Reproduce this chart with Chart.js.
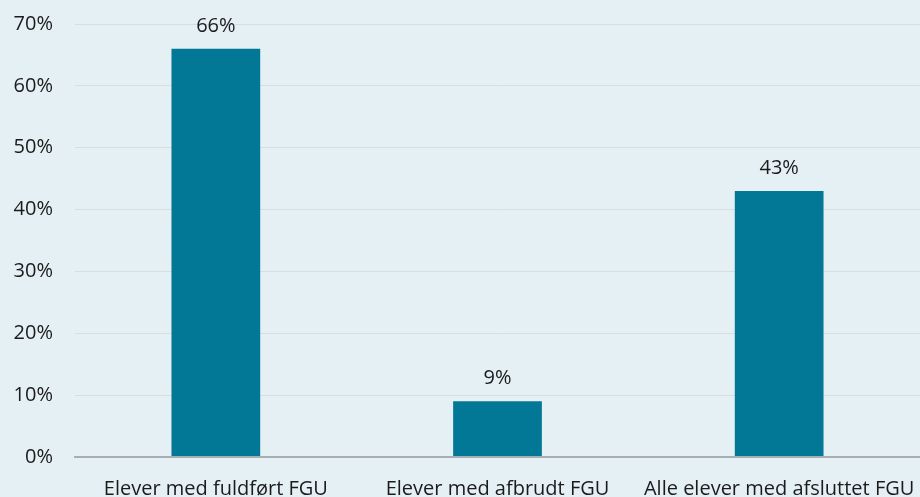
<!DOCTYPE html>
<html>
<head>
<meta charset="utf-8">
<script src="https://cdn.jsdelivr.net/npm/chart.js@4"></script>
<style>
  html, body { margin: 0; padding: 0; background: #e5f0f5; }
  #wrap { width: 920px; height: 497px; position: relative; }
</style>
</head>
<body>
<div id="wrap"><canvas id="myChart"></canvas></div>
<script>
const categories = ["Elever med fuldført FGU", "Elever med afbrudt FGU", "Alle elever med afsluttet FGU"];
const shares = [66, 9, 43];
const yTicks = [0, 10, 20, 30, 40, 50, 60, 70];

const FONT = "'Open Sans', 'Noto Sans', sans-serif";
const TEXT = "#1b1b1b";

// labels above each bar, placed from the bar elements
const barLabels = {
  id: "barLabels",
  afterDatasetsDraw(chart) {
    const ctx = chart.ctx;
    const meta = chart.getDatasetMeta(0);
    ctx.save();
    ctx.font = "20px " + FONT;
    ctx.fillStyle = TEXT;
    ctx.textAlign = "center";
    ctx.textBaseline = "alphabetic";
    meta.data.forEach((bar, i) => {
      ctx.fillText(shares[i] + "%", bar.x, bar.y - 17);
    });
    ctx.restore();
  },
};

const ctx = document.getElementById("myChart").getContext("2d");

new Chart(ctx, {
  type: "bar",
  data: {
    labels: categories,
    datasets: [
      {
        data: shares,
        backgroundColor: "#027896",
        categoryPercentage: 1,
        barPercentage: 0.315,
      },
    ],
  },
  options: {
    responsive: true,
    maintainAspectRatio: false,
    animation: false,
    layout: { padding: { top: 24, right: -4, bottom: 0, left: 0 } },
    plugins: {
      legend: { display: false },
      tooltip: { enabled: false },
    },
    scales: {
      x: {
        afterFit(axis) {
          axis.height = 40;
          axis.paddingLeft = 0;
          axis.paddingRight = 0;
        },
        grid: { display: false, drawTicks: false },
        border: { display: true, color: "#a8aeb3", width: 2 },
        ticks: {
          color: TEXT,
          font: { family: FONT, size: 20 },
          padding: 20,
          maxRotation: 0,
          autoSkip: false,
        },
      },
      y: {
        min: 0,
        max: 70,
        afterBuildTicks(axis) {
          axis.ticks = yTicks.map((v) => ({ value: v }));
        },
        afterFit(axis) {
          axis.width = 75;
          axis.paddingTop = 0;
          axis.paddingBottom = 0;
        },
        border: { display: false },
        grid: {
          drawTicks: false,
          color: (c) => (c.tick && c.tick.value === 0 ? "#a8aeb3" : "#d8dde0"),
          lineWidth: (c) => (c.tick && c.tick.value === 0 ? 2 : 1),
        },
        ticks: {
          color: TEXT,
          font: { family: FONT, size: 20 },
          padding: 22,
          callback: (v) => v + "%",
        },
      },
    },
  },
  plugins: [barLabels],
});
</script>
</body>
</html>
